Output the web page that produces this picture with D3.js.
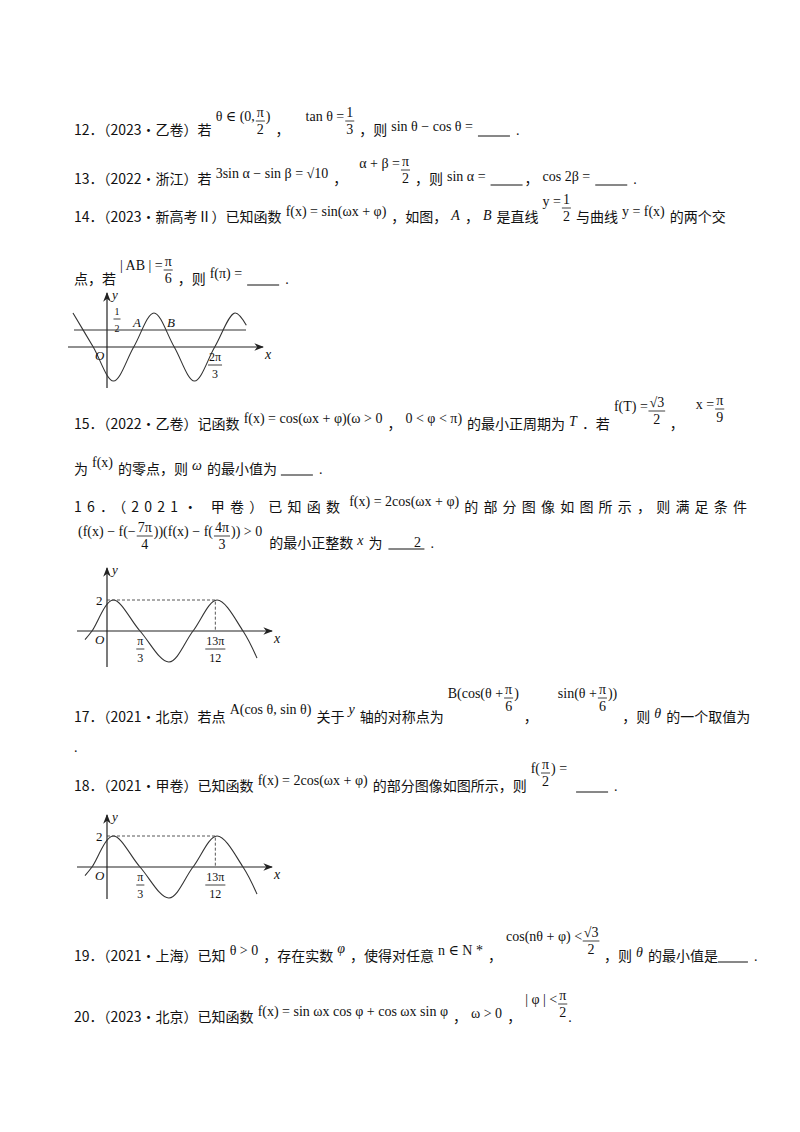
<!DOCTYPE html>
<html><head><meta charset="utf-8">
<script src="https://cdn.jsdelivr.net/npm/d3@7"></script>
<style>body{margin:0;background:#fff}</style>
</head><body>
<script>
// sin curve of problem 14, x in units of pi, y = f(x)
const curve14X = [-0.21, -0.085, 0.04, 0.165, 0.29, 0.415, 0.54, 0.665, 0.79, 0.86];
const curve14Y = [1, 0, -1, 0, 1, 0, -1, 0, 1, 0.64];
const line14Y = 0.5;
const ticks14 = [{ v: 2 / 3, num: "2π", den: "3" }];
// 2cos curve of problems 16 and 18
const curve16X = [-0.22, -0.15, 0.06, 0.33, 0.62, 0.86, 1.1, 1.36, 1.5];
const curve16Y = [-0.55, 0, 2, 0, -2, 0, 2, 0, -1.75];
const peak16 = { x: 13 / 12, y: 2 };
const ticks16 = [{ v: 1 / 3, num: "π", den: "3" }, { v: 13 / 12, num: "13π", den: "12" }];

const W = 800, H = 1132;
const svg = d3.select("body").append("svg").attr("width", W).attr("height", H);
svg.append("rect").attr("width", W).attr("height", H).attr("fill", "#fff");
svg.append("defs").append("marker").attr("id", "arr").attr("viewBox", "0 0 10 10")
  .attr("refX", 9).attr("refY", 5).attr("markerWidth", 8).attr("markerHeight", 8)
  .attr("orient", "auto").append("path").attr("d", "M0,1L10,5L0,9L3,5Z").attr("fill", "#222");

const CN = "'Noto Sans CJK SC', sans-serif";
const MATH = "'Liberation Serif', 'DejaVu Serif', serif";
const L = 74;
const PAD = 4; // space around math pieces

function txt(x, y, s, font, size, italic, anchor) {
  return svg.append("text").attr("x", x).attr("y", y).text(s)
    .attr("font-family", font).attr("font-size", size)
    .attr("font-style", italic ? "italic" : "normal")
    .attr("text-anchor", anchor || "start").attr("fill", "#111");
}
function m(x, y, s, opts = {}) {
  return txt(x, y, s, MATH, opts.size || 14, opts.italic, opts.anchor);
}
// stacked fraction centered at cx
function frac(cx, y, num, den, size) {
  const a = m(cx, y - 8, num, { anchor: "middle", size: size });
  const b = m(cx, y + 9, den, { anchor: "middle", size: size });
  const w = Math.max(a.node().getComputedTextLength(), b.node().getComputedTextLength()) + 2;
  svg.append("line").attr("x1", cx - w / 2).attr("x2", cx + w / 2)
    .attr("y1", y - 4).attr("y2", y - 4).attr("stroke", "#111").attr("stroke-width", 0.8);
}

// lays out one text line left to right
// string -> chinese text, {m, dy, it} -> math, {f:[num,den], dy} -> fraction,
// {b: w} -> answer blank, {g: n} -> gap
function flow(y, items, ls) {
  let x = L, prevMath = false;
  items.forEach(it => {
    const isMath = typeof it !== "string" && (it.m !== undefined || it.f);
    if (isMath && !prevMath) x += PAD;
    if (!isMath && prevMath && !it.g) x += PAD;
    if (typeof it === "string") {
      const t = txt(x, y, it, CN, 14).attr("letter-spacing", ls || 0);
      x += t.node().getComputedTextLength();
    } else if (it.m !== undefined) {
      const t = m(x, y + (it.dy || 0), it.m, { italic: it.it });
      x += t.node().getComputedTextLength() + 1;
    } else if (it.f) {
      const w = Math.max(it.f[0].length, it.f[1].length) * 7 + 2;
      frac(x + w / 2, y + (it.dy || 0), it.f[0], it.f[1], 14);
      x += w + 1;
    } else if (it.b) {
      svg.append("line").attr("x1", x).attr("x2", x + it.b).attr("y1", y + 1).attr("y2", y + 1)
        .attr("stroke", "#111").attr("stroke-width", 1);
      x += it.b + 2;
    } else if (it.g) x += it.g;
    prevMath = isMath;
  });
}

const up = -10;
flow(135, ["12．（2023•乙卷）若", { m: "θ ∈ (0,", dy: -14 }, { f: ["π", "2"], dy: up }, { m: ")", dy: -14 },
  "，", { g: 12 }, { m: "tan θ =", dy: -14 }, { f: ["1", "3"], dy: up }, "，则", { m: "sin θ − cos θ =", dy: -4 },
  { b: 32 }, { m: "." }]);
flow(184, ["13．（2022•浙江）若", { m: "3sin α − sin β = √10", dy: -6 }, "，", { g: 8 }, { m: "α + β =", dy: -16 },
  { f: ["π", "2"], dy: up }, "，则", { m: "sin α =", dy: -3 }, { b: 32 }, "，", { m: "cos 2β =", dy: -3 }, { b: 32 }, { m: "." }]);
flow(222, ["14．（2023•新高考Ⅱ）已知函数", { m: "f(x) = sin(ωx + φ)", dy: -6 }, "，如图，", { m: "A", dy: -2, it: true },
  "，", { m: "B", dy: -2, it: true }, "是直线", { m: "y =", dy: -16 }, { f: ["1", "2"], dy: up }, "与曲线",
  { m: "y = f(x)", dy: -6 }, "的两个交"]);
flow(284, ["点，若", { m: "| AB | =", dy: -14 }, { f: ["π", "6"], dy: up }, "，则", { m: "f(π) =", dy: -6 }, { b: 32 }, { m: "." }]);
flow(429, ["15．（2022•乙卷）记函数", { m: "f(x) = cos(ωx + φ)(ω > 0", dy: -6 }, "，", { m: "0 < φ < π)", dy: -6 },
  "的最小正周期为", { m: "T", dy: -3, it: true }, "．若", { m: "f(T) =", dy: -18 }, { f: ["√3", "2"], dy: -14 }, "，",
  { g: 8 }, { m: "x =", dy: -20 }, { f: ["π", "9"], dy: -16 }]);
flow(474, ["为", { m: "f(x)", dy: -7 }, "的零点，则", { m: "ω", dy: -4, it: true }, "的最小值为", { g: 4 }, { b: 32 }, { m: "." }]);
flow(512, ["16．（2021• 甲卷）已知函数", { m: "f(x) = 2cos(ωx + φ)", dy: -6 }, "的部分图像如图所示，则满足条件"], 5.2);
flow(548, [{ m: "(f(x) − f(−", dy: -12 }, { f: ["7π", "4"], dy: -8 }, { m: "))(f(x) − f(", dy: -12 }, { f: ["4π", "3"], dy: -8 },
  { m: ")) > 0", dy: -12 }, { g: 6 }, "的最小正整数", { m: "x", dy: -3, it: true }, "为", { g: 6 }, { b: 36 }, { m: "." }]);
m(414, 547, "2");
flow(722, ["17．（2021•北京）若点", { m: "A(cos θ, sin θ)", dy: -8 }, "关于", { m: "y", dy: -8, it: true }, "轴的对称点为",
  { m: "B(cos(θ +", dy: -24 }, { f: ["π", "6"], dy: -20 }, { m: ")", dy: -24 }, "，", { g: 16 }, { m: "sin(θ +", dy: -24 },
  { f: ["π", "6"], dy: -20 }, { m: "))", dy: -24 }, "，则", { m: "θ", dy: -4, it: true }, "的一个取值为"]);
m(L, 752, ".");
flow(791, ["18．（2021•甲卷）已知函数", { m: "f(x) = 2cos(ωx + φ)", dy: -6 }, "的部分图像如图所示，则", { m: "f(", dy: -18 },
  { f: ["π", "2"], dy: -14 }, { m: ") =", dy: -18 }, { g: 8 }, { b: 32 }, { m: "." }]);
flow(961, ["19．（2021•上海）已知", { m: "θ > 0", dy: -6 }, "，存在实数", { m: "φ", dy: -8, it: true }, "，使得对任意",
  { m: "n ∈ N *", dy: -6 }, "，", { m: "cos(nθ + φ) <", dy: -20 }, { f: ["√3", "2"], dy: -16 }, "，则",
  { m: "θ", dy: -4, it: true }, "的最小值是", { b: 30 }, { m: "." }]);
flow(1022, ["20．（2023•北京）已知函数", { m: "f(x) = sin ωx cos φ + cos ωx sin φ", dy: -6 }, "，", { m: "ω > 0", dy: -4 },
  "，", { m: "| φ | <", dy: -18 }, { f: ["π", "2"], dy: -14 }, { m: "." }]);

// graph helper
function graph(cfg) {
  const g = svg.append("g");
  const x = d3.scaleLinear().domain([0, 1]).range([cfg.ox, cfg.ox + cfg.piPx]);
  const y = d3.scaleLinear().domain([-cfg.amp, cfg.amp]).range([cfg.oy + cfg.ampPx, cfg.oy - cfg.ampPx]);
  g.append("line").attr("x1", cfg.axL).attr("x2", cfg.axR).attr("y1", cfg.oy).attr("y2", cfg.oy)
    .attr("stroke", "#222").attr("stroke-width", 1.2).attr("marker-end", "url(#arr)");
  g.append("line").attr("x1", cfg.ox).attr("x2", cfg.ox).attr("y1", cfg.ayB).attr("y2", cfg.ayT)
    .attr("stroke", "#222").attr("stroke-width", 1.2).attr("marker-end", "url(#arr)");
  const pts = cfg.xs.map((v, i) => [v, cfg.ys[i]]);
  g.append("path").attr("d", d3.line().x(d => x(d[0])).y(d => y(d[1])).curve(d3.curveCatmullRom)(pts))
    .attr("fill", "none").attr("stroke", "#333").attr("stroke-width", 1.1);
  m(cfg.ox + 5, cfg.ayT + 6, "y", { italic: true, size: 13 });
  m(cfg.ox - 12, cfg.oy + 13, "O", { italic: true, size: 13 });
  m(cfg.axR + 2, cfg.oy + 12, "x", { italic: true, size: 14 });
  cfg.ticks.forEach(t => frac(x(t.v), cfg.oy + 22, t.num, t.den, 12));
  return { x, y, g };
}

const g14 = graph({ ox: 107, oy: 347, piPx: 162, amp: 1, ampPx: 34, axL: 68, axR: 263, ayB: 388, ayT: 293,
  xs: curve14X, ys: curve14Y, ticks: ticks14 });
g14.g.append("line").attr("x1", 74).attr("x2", 246).attr("y1", g14.y(line14Y)).attr("y2", g14.y(line14Y))
  .attr("stroke", "#333").attr("stroke-width", 1.1);
frac(117, g14.y(line14Y) - 7, "1", "2", 10);
m(133, g14.y(line14Y) - 3, "A", { italic: true, size: 13 });
m(167, g14.y(line14Y) - 3, "B", { italic: true, size: 13 });

[631, 867].forEach((oy, k) => {
  const gg = graph({ ox: 107, oy: oy, piPx: 100, amp: 2, ampPx: 31, axL: 77, axR: 272,
    ayB: oy + (k ? 32 : 36), ayT: oy - (k ? 52 : 63), xs: curve16X, ys: curve16Y, ticks: ticks16 });
  gg.g.append("path").attr("d", `M${gg.x(0)},${gg.y(peak16.y)}H${gg.x(peak16.x)}V${gg.y(0)}`)
    .attr("fill", "none").attr("stroke", "#444").attr("stroke-width", 0.9).attr("stroke-dasharray", "3,2");
  m(96, gg.y(peak16.y) + 5, "2", { size: 13 });
});
</script>
</body></html>
